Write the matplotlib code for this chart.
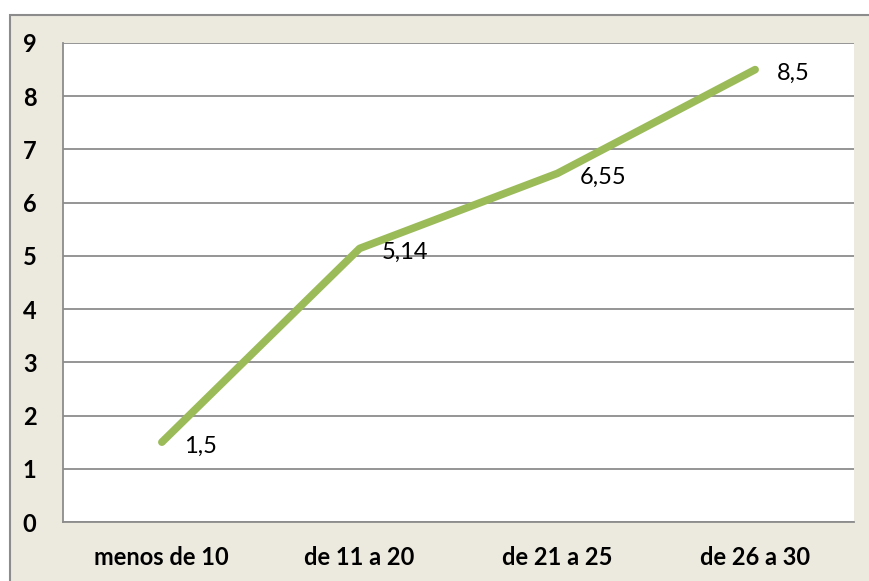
import matplotlib.pyplot as plt
import matplotlib
from matplotlib.patches import Rectangle

font = {'family': ['Lato', 'DejaVu Sans']}
matplotlib.rc('font', **font)

categories = ['menos de 10', 'de 11 a 20', 'de 21 a 25', 'de 26 a 30']
values = [1.5, 5.14, 6.55, 8.5]
labels = ['1,5', '5,14', '6,55', '8,5']
yticks = [0, 1, 2, 3, 4, 5, 6, 7, 8, 9]

W, H = 869, 581
fig = plt.figure(figsize=(W / 100, H / 100), dpi=100)
fig.patch.set_facecolor('white')

# beige chart area with gray border on top/left
fig.patches.append(Rectangle((9.5 / W, 0 - 0.05), 1.1, 1 - 14.5 / H + 0.05,
                             transform=fig.transFigure, facecolor='#ECE9DF',
                             edgecolor='#8C8C8C', linewidth=1.5, zorder=-10))

ax = fig.add_axes([63 / W, (H - 522) / H, 791 / W, 479 / H])
ax.set_zorder(5)
ax.set_facecolor('white')

x = list(range(len(categories)))
ax.plot(x, values, color='#9BBB59', linewidth=5.5, solid_capstyle='round', zorder=3)

for xi, v, lab in zip(x, values, labels):
    ax.annotate(lab, (xi, v), xytext=(16, -3), textcoords='offset points',
                ha='left', va='center', fontsize=17, color='black')

ax.set_xlim(-0.5, 3.5)
ax.set_ylim(0, 9)
ax.set_yticks(yticks)
ax.set_xticks(x)
ax.set_xticklabels(categories, fontsize=17, fontweight='bold')
ax.set_yticklabels([str(t) for t in yticks], fontsize=17, fontweight='bold')
ax.tick_params(axis='both', length=0)
ax.tick_params(axis='y', pad=19)
ax.tick_params(axis='x', pad=17)
ax.grid(axis='y', color='#8C8C8C', linewidth=1.3)
ax.set_axisbelow(True)
for s in ['top', 'right']:
    ax.spines[s].set_visible(False)
for s in ['left', 'bottom']:
    ax.spines[s].set_color('#8C8C8C')
    ax.spines[s].set_linewidth(1.3)

fig.savefig('out.png', dpi=100)
plt.close()
